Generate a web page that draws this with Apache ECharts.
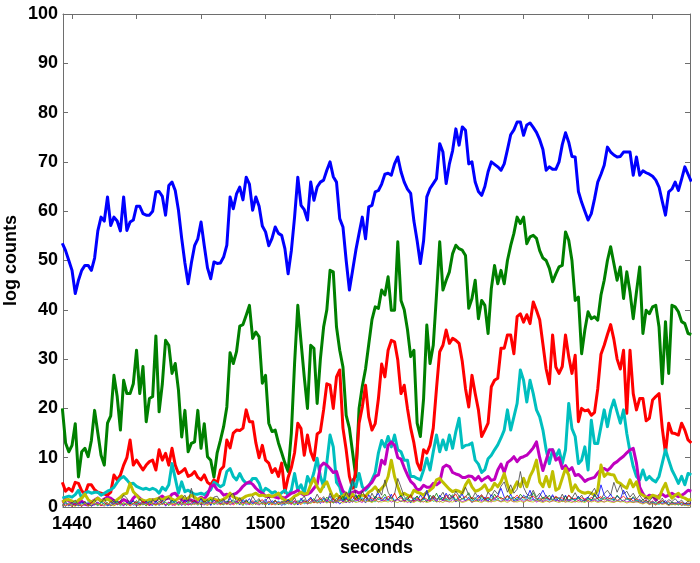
<!DOCTYPE html>
<html>
<head>
<meta charset="utf-8">
<script src="https://cdn.jsdelivr.net/npm/echarts@6/dist/echarts.min.js"></script>
<style>
html,body{margin:0;padding:0;background:#fff;}
#chart{width:700px;height:563px;}
</style>
</head>
<body>
<div id="chart"></div>
<script>
// time grid: one sample per second, 1437 .. 1632 (196 samples)
const seconds = Array.from({length: 196}, (_, i) => 1437 + i);
const xTicks = [1440, 1460, 1480, 1500, 1520, 1540, 1560, 1580, 1600, 1620];
const yTicks = [0, 10, 20, 30, 40, 50, 60, 70, 80, 90, 100];

// thick series
const blue = [
53.5,52,50,48,43.3,46,48,49,49,48,
50.5,56,58.8,58,62.9,57.1,58.8,58,56,62.9,
56.1,57.8,58.2,61,61,59.5,59.2,59.2,60,63.9,
64,63,59.2,65.2,65.9,64.2,60.2,54.5,49.5,45.3,
49.5,53,54.4,57.8,53,48.5,46.3,49.7,49.4,49.5,
50.7,53.1,62.9,60.5,63.5,64.9,62.3,66.9,65.5,60.2,
62.9,61,57,55.8,53,54.5,56.8,55.5,55.1,52.4,
47.3,52,58.8,66.9,61.2,60.3,58.2,65.9,62.2,64.9,
65.9,66.3,68.3,70,67,65.9,58.5,56.8,50,44,
48,52.1,55.5,58.8,54.4,60.9,61.2,63.9,64.2,65.5,
67.5,67.7,67.3,69.6,71,68,65.9,64.5,63.6,58,
54,49.4,54,62.9,64.6,65.6,66.6,73.7,72,65.6,
69.6,72.3,76.7,73.4,77.1,76.4,69.6,70,65.9,64,
63.2,65,68,70,69.5,69,68.3,69.6,72.5,75.5,
76.5,78.1,78.1,75.4,77.5,77.9,77,76,74.5,72.5,
68.3,69,68.5,68.5,70,73.5,75.9,74,71.1,71,
64,61.8,60,58.2,59.5,62.5,65.9,67.5,69.3,73,
72,71.4,71,71.1,72,72,72,67.3,71,67.3,
68.2,67.8,67.5,67.1,66.3,64.9,62,59.2,63.9,64.5,
65.9,64.2,66.5,69,67.5,66];

const green = [
20,13,11.2,12.5,16.9,6.1,11.2,11.9,10.2,13.5,
19.6,15,10.5,8.5,17,18.5,26.7,22.4,15.6,25.7,
23,23,25,31.8,23,28.5,17.3,22,22.4,34.7,
19.3,25,33.8,32.8,27.1,29.1,23.7,14.2,19.6,11.2,
12.9,13.2,19.6,11.9,16.9,10.2,9.5,6.1,11,13.5,
16.3,20.3,31.3,29.1,31.5,36.7,37,38.9,40.9,34.2,
35.5,34.5,25.1,26.7,17,15.3,15.6,13,11,8.9,
7.2,15,29.1,40.9,33.5,26.4,20,32.8,32.2,21,
30,36.5,40,48,47.7,36.5,31.8,28.4,18.6,16,
11,6.1,20,24.5,28,33,38,40.6,40.3,44,
43,46.7,39.9,39.9,53.8,41.9,40,36,30.5,31.8,
17,14.3,22,36.9,29.1,32.8,43,53.8,44,46,
47.7,51.4,53.1,52.4,52.1,51,40.3,42.3,46,38.2,
41.9,40.9,35.2,44.3,49,45.3,48,45.3,50,53,
55.5,58.8,57.5,58.8,53.4,54.8,55.1,54.5,52,50.5,
50,48.4,45.7,47.3,48.7,49,55.8,54.1,50,41.9,
42.6,31.1,35.9,39.6,38.2,38.6,37.9,43,46,50,
52.8,49.4,46,48.7,42.3,47.7,43.6,38.2,43.6,48.7,
35.2,39.9,39.2,40.6,40.9,36.5,25,37.6,27.1,40.9,
40.6,39.6,37.6,37.2,35.2,35];

const red = [
5,3.2,3.8,3.2,5,4.8,3.3,2.6,4.5,4.5,
3.5,3,2.8,2.6,2.4,3,6.5,5.5,6.5,8.5,
10,13.6,8.5,9.5,8.5,7.5,8.5,9.2,9.5,7.5,
11.6,9.5,10.9,8.5,11.9,8.5,6.8,7.2,7.8,6.2,
6.5,7.2,6,5.5,6.5,5,4.5,5.5,4.8,7.5,
8.2,13.6,12,15,15.6,15.5,16,19.7,17.3,17.3,
13,10,12.5,9.5,8.9,7,7.8,6.2,8.9,3,
6,8,11,17,15.9,10.5,14.6,11.2,9.5,14.8,
15.3,19.7,25,24.7,20,26.4,27.8,16,11.6,6.2,
3.8,7.5,17,20.3,24.7,18.3,15.6,16.9,22,29,
26.4,31.8,33.8,33.5,29.8,23,24.7,20,16,13,
9,7.5,11.6,10.9,12.5,16,24,31.5,32.8,35.9,
33.2,34.2,33.8,33.2,29.5,24,20.3,26.7,23,19.7,
14.3,15.6,17,24.4,25.7,26.1,32.2,32.2,34.9,34.9,
31.1,38.6,39.2,37.5,39,37.2,41.6,39.9,38,33,
28,25,34.9,28.4,27.1,28.5,34.9,30.5,27.1,30.8,
17.3,20,19.5,19.7,18.6,19.2,24,31,32.8,35,
37,34,30,28,31.8,19,31.8,23,19.7,22,
22,17.5,18,21.7,22.4,23,16,10.9,17,15,
14.9,14.6,17,15.6,13.6,13];

const cyan = [
1.8,2,2.2,2,2.5,3.4,1.8,2.8,3.1,2.8,
3,3,2.4,2.8,3.2,3.5,4,5,5.8,6.2,
5.5,4.7,4.8,4.2,3.9,3.6,3.8,3.5,3.8,3.5,
2.8,4,3.4,4.5,8.8,5.8,2.8,5.1,3.1,3.4,
3,2.6,2.6,2.8,2.5,3,3.5,5,4.6,4.1,
4.5,7.2,7.8,6.2,5.5,6.8,5.5,4.8,4.8,5.8,
5.8,4.8,2.8,3.8,3.4,2.8,3.1,2.4,2.9,3.4,
2.4,3.4,6.8,3.4,4.5,2.8,6.2,4.8,7,9.9,
6.2,4.1,9,14.6,12.2,5,4.1,1.5,1.8,3,
5.1,4.1,6.8,4.1,3.4,4.2,5.5,7,11,13.5,
12.2,14.3,12.2,14.6,11.6,11.2,9.5,9.5,6.2,6.2,
5.8,5.5,7.5,9.9,7.5,11.2,14.6,11.2,13.6,11.6,
14.6,11.9,15.3,18,12,12.5,12.6,13,9.5,8.7,
7,7.6,9.8,10.5,11.6,12.6,14,15.6,19.7,15.6,
18.3,21,27.8,25.7,21.3,25.7,23,19.7,18.3,15.6,
11.6,8.8,11.6,10.2,11.6,8.8,11.6,21,15.9,14.3,
8.8,9.5,12.2,7.5,17.6,12.9,12.9,16.3,19.7,16.3,
19.7,21.7,19.3,17,19.7,14.9,11.2,8.2,6.2,5.5,
7.5,5.5,6.2,5.5,5.1,6.2,8.9,11.6,9.5,7.5,
6.2,4.8,6.2,4.5,6.8,6.5];

const magenta = [
1,1.5,1.3,1,0.5,0.8,1.2,0.6,0.4,1,
1.4,1.8,1.2,1.6,2,1.8,1.3,0.8,1,1.5,
1.2,0.8,1.8,2.4,1.8,1.2,0.8,1,1.5,1.3,
1.8,2.2,1.6,1.8,2.6,2.8,2,1.5,1.2,1.6,
1.4,1,1.5,2,1.6,2.5,4.2,4.5,3.5,3.2,
2.4,2.6,2.2,2.5,2.8,3.4,4.2,4.8,5.1,4.6,
3.8,3.2,2.8,2.2,2.1,2.2,2,1.8,2,1.8,
2.3,2.8,3,3.4,2.8,2.4,2.6,3,3.8,4.6,
8.2,8.9,8.5,7.8,7,7.2,5,3.2,2.6,2.4,
3,3.2,2.8,3.2,3.8,4.4,5,6.2,6.5,9.5,
8.7,12.5,13.2,12.5,10,9.7,8,6.5,5.2,4.6,
3.5,3.6,4.4,4,4,4.8,4.5,5,8,8.5,
8.2,7,6.7,6.5,6,6,6.3,6.2,5.5,6.2,
5.3,5.8,6.2,5.4,5.6,7.5,8.7,7,9,9.5,
10.2,9.2,10,10.2,10.5,11.2,12,13.2,10,7.4,
9.5,11.6,11.6,9.5,10,7.8,8.4,7.4,8,6.4,
6.6,6,5.2,5.6,5.8,6,6.9,7.6,7.8,7.4,
8,8.8,9.2,9.8,10.3,11,11.6,11.9,8.9,4,
2.7,1.8,2.4,2.2,1.4,2.3,2.6,2.1,2.4,2.8,
2.4,2.1,2.4,2.8,3.4,3.2];

const yellow = [
1,1.4,1.5,1.2,0.8,1.4,1.8,2.6,1.5,1,
1.3,1.8,1.2,1.4,1.6,1.2,0.8,1.5,2,2.6,
2.8,4.8,3.1,2.4,1.6,1.4,1.2,1.5,1.4,1.6,
1.8,1.4,1.9,2.1,1.6,1.3,1.8,2.2,1.6,1.8,
2.4,2,1.5,1.8,1.3,1.4,1.8,1.6,1.4,1.3,
1.6,2,2.8,2,1.8,1.5,1.8,2.2,2.4,2.5,
2.8,2.3,2.4,2.2,2.4,2.1,2.4,2.8,1.8,1.4,
1.2,1.6,2.2,2.5,3,2.6,2.8,4.5,5.8,4.1,
3.1,4.4,5.1,3.4,1.8,2.6,1.8,2.2,2.8,1.5,
2.6,1.8,2.2,2.4,2.2,3,3.4,4.1,3.1,3.8,
4.5,6.2,9.5,6.2,4.1,2.4,2.8,2.4,2.1,3.4,
3,2.8,2.4,3,3.4,4,5.5,5.8,5,4.3,
3.6,3.1,3.4,3.2,2.8,4.5,5.5,4.1,3.2,3.4,
3.8,4.5,3.2,3.6,4.8,4.1,5.1,6.8,4.5,2.8,
3.8,5.1,4.1,5.8,4.1,6.2,7.5,9.5,5.1,4.1,
6.2,4.1,7.2,3.4,3.8,5.8,7.8,6.5,3.1,4.5,
3.4,3,2.8,3,2.8,2.4,3.4,8.5,6.2,6.8,
6.6,6.5,5.1,4.8,4.2,3.8,5.5,4.1,5.1,2.8,
2.4,2,1.8,2.4,2.2,1.8,3.5,4.8,2.8,1.8,
2.4,2.8,2,1.8,1.4,1.5];

// thin series
const thinBlack = [
0.3,1.1,0.2,0.8,1.4,0.3,0.6,1.2,0.2,0.9,
1.5,0.4,0.8,1.8,0.3,1.0,1.6,0.5,1.2,2.4,
1.8,0.6,1.3,0.4,1.7,0.8,1.2,0.3,1.5,0.9,
2.0,0.5,1.4,1.9,0.7,1.3,0.5,1.6,2.4,1.0,
3.8,1.2,0.6,1.8,0.9,1.5,0.4,2.0,2.2,1.1,
1.6,0.7,2.3,2.8,1.0,1.9,0.8,1.5,0.6,2.2,
1.1,1.7,0.5,1.3,2.0,0.8,1.4,0.4,1.2,0.7,
1.6,0.9,1.9,0.5,1.4,2.2,0.8,1.8,1.2,2.6,
1.4,2.1,0.9,2.8,1.5,1.0,2.4,1.2,3.0,2.0,
5.8,2.5,1.4,3.2,2.0,1.2,2.8,1.6,3.6,2.4,
5.5,3.0,1.8,2.6,5.8,4.0,2.1,1.4,2.5,1.2,
2.2,1.0,1.8,2.9,1.3,2.4,1.6,2.0,3.0,1.5,
2.6,1.8,3.2,2.2,2.8,4.0,2.4,1.6,2.9,1.9,
2.5,1.4,3.0,2.2,3.4,2.6,4.2,5.1,3.0,4.5,
2.8,3.6,7.2,4.0,2.6,2.2,3.4,2.0,2.8,1.6,
2.4,1.5,2.2,1.8,1.2,2.6,1.4,2.4,1.8,2.9,
1.6,2.4,1.2,2.0,2.8,3.8,2.2,1.6,2.7,3.4,
2.4,5.0,3.0,4.5,2.6,3.2,2.0,2.8,1.6,2.4,
1.4,2.0,1.2,2.0,1.6,1.0,1.8,0.8,1.5,1.1,
1.7,0.9,1.4,0.6,1.2,0.8];

const thinBlue = [
0.6,0.1,0.9,0.3,0.7,0.2,1.1,0.4,0.8,0.2,
0.5,1.0,0.3,0.9,0.2,0.6,1.2,0.4,0.8,0.3,
1.0,0.5,1.3,0.2,0.9,0.4,1.1,0.6,0.3,1.2,
0.5,1.4,0.2,0.8,1.3,0.6,1.0,0.3,1.5,0.7,
0.4,1.2,0.8,1.6,0.5,1.1,0.3,1.4,0.9,0.6,
1.3,0.5,1.8,0.7,1.2,0.4,1.5,0.9,1.7,0.6,
1.2,0.5,1.0,1.6,0.4,1.3,0.7,1.1,0.3,0.9,
1.4,0.6,1.2,0.4,1.8,0.8,1.3,2.0,0.9,1.5,
0.7,1.8,1.1,2.2,0.8,1.4,0.6,1.2,1.9,0.8,
1.5,2.4,1.0,1.7,0.8,2.5,1.3,1.9,2.8,1.2,
2.0,1.4,2.6,1.0,1.8,2.2,1.1,1.6,0.8,1.9,
1.2,2.4,1.5,3.4,1.6,2.0,1.0,2.4,1.4,2.8,
1.5,2.2,1.0,1.8,2.6,1.2,2.0,0.9,1.7,2.4,
1.3,2.0,1.1,2.5,1.6,2.2,3.8,2.0,1.4,2.6,
1.2,2.0,1.5,2.4,1.8,3.4,1.6,1.2,2.2,3.4,
2.0,1.4,2.5,1.1,1.9,1.3,2.4,1.0,1.8,1.4,
2.2,1.0,1.6,2.0,1.2,2.6,1.6,4.5,2.4,1.8,
2.6,1.4,2.2,1.6,3.4,2.0,1.2,1.9,1.0,1.6,
0.8,1.4,0.6,1.2,0.5,1.0,0.7,1.3,0.4,0.9,
0.6,1.1,0.3,0.8,0.5,0.9];

const thinGreen = [
0.2,0.8,0.4,1.0,0.3,0.7,0.1,0.9,0.5,0.2,
0.8,0.3,1.1,0.5,0.9,0.2,0.7,1.2,0.4,0.8,
0.3,1.0,0.6,1.3,0.4,0.8,0.2,1.1,0.7,0.4,
1.2,0.6,0.9,0.3,1.4,0.8,0.5,1.1,0.3,0.9,
1.3,0.6,1.0,0.4,1.2,0.7,1.6,0.5,1.1,0.8,
0.4,1.2,0.9,1.5,0.6,1.1,0.3,1.3,0.8,1.0,
0.5,1.4,0.8,0.4,1.1,0.7,1.3,0.5,0.9,1.2,
0.6,1.0,0.4,1.3,0.8,1.5,0.6,1.1,1.7,0.9,
1.6,1.0,2.0,1.3,0.8,1.8,1.2,2.2,0.9,1.5,
1.0,1.8,2.4,1.2,2.0,1.4,1.0,2.2,1.5,1.8,
2.6,1.4,2.0,1.1,1.8,2.4,1.3,2.1,1.0,1.6,
2.2,1.3,1.9,1.0,2.4,1.6,2.8,1.4,2.0,1.2,
1.8,2.5,1.3,2.2,1.6,2.0,2.9,1.5,1.9,1.1,
2.2,1.5,1.8,1.2,2.6,1.7,2.0,1.3,2.4,1.6,
2.0,1.4,2.6,1.8,2.2,1.5,2.9,1.7,1.2,2.0,
1.6,2.4,1.3,2.0,1.7,1.1,2.2,1.4,1.8,1.2,
2.0,1.5,1.1,1.8,1.4,2.3,1.6,1.2,2.0,1.5,
1.8,1.2,2.4,1.6,1.1,1.9,1.4,2.1,1.3,1.0,
1.5,0.9,1.2,0.7,1.1,0.6,1.3,0.8,0.5,1.0,
0.7,0.4,0.9,0.5,0.8,0.4];

const thinRed = [
0.9,0.3,0.6,0.1,0.8,0.4,0.2,0.7,0.3,1.0,
0.4,0.7,0.2,0.9,0.5,1.1,0.3,0.6,1.0,0.5,
0.8,0.2,0.7,1.0,0.5,1.2,0.6,0.3,0.9,0.5,
0.8,1.1,0.4,1.0,0.6,0.3,1.2,0.7,1.0,0.4,
0.9,1.3,0.5,0.8,1.1,0.4,1.0,0.7,1.4,0.5,
1.0,0.6,1.2,0.4,0.9,1.4,0.7,1.1,0.5,1.3,
0.8,1.0,1.5,0.6,0.9,0.4,1.2,0.8,1.0,0.5,
1.1,0.7,1.3,0.9,0.5,1.2,1.0,1.6,0.8,1.3,
1.9,1.0,1.5,0.8,1.7,1.2,2.0,1.0,1.6,1.3,
2.2,1.4,1.8,1.1,2.4,1.5,1.9,1.2,2.0,1.7,
1.3,2.2,1.6,2.8,1.4,1.9,1.2,1.7,2.3,1.1,
1.8,1.4,2.0,1.6,1.2,2.2,1.5,1.8,1.3,2.4,
1.6,1.9,2.6,1.4,1.7,2.2,1.5,2.0,1.3,1.8,
2.4,1.6,2.0,1.4,1.9,2.3,1.6,1.8,2.2,1.5,
1.8,2.4,1.7,2.0,1.4,1.9,2.2,1.6,1.8,1.3,
2.0,1.6,1.4,2.2,1.7,1.9,1.2,2.4,1.5,1.8,
1.3,1.9,1.6,1.2,2.0,1.5,1.8,2.1,1.4,1.9,
1.6,2.0,1.3,1.7,2.2,1.5,1.8,1.2,1.6,1.3,
1.0,1.4,0.8,1.2,0.6,1.0,1.3,0.7,1.1,0.5,
0.9,0.6,1.0,0.4,0.8,0.5];

const thinCyan = [
0.4,0.9,0.2,0.6,1.0,0.3,0.8,0.5,1.1,0.3,
0.7,0.2,1.0,0.6,0.3,0.9,0.5,1.1,0.2,0.8,
0.5,1.1,0.3,0.7,1.0,0.4,0.8,1.2,0.5,0.9,
0.3,0.8,1.0,0.5,0.9,1.2,0.4,0.8,0.6,1.0,
0.6,1.0,0.3,1.2,0.7,0.9,1.3,0.5,0.8,1.1,
0.7,1.0,0.5,1.1,0.8,0.6,1.2,0.4,1.0,0.8,
1.3,0.6,0.9,1.1,0.5,1.0,0.6,1.2,0.8,0.4,
0.9,1.2,0.7,1.0,1.4,0.6,1.0,0.8,1.3,1.0,
1.2,1.6,0.9,1.4,1.1,0.8,1.5,1.3,1.0,1.7,
1.3,1.1,1.6,1.9,1.2,1.7,1.4,1.0,1.8,1.3,
1.7,1.2,1.9,1.4,1.6,1.0,1.8,1.4,1.2,1.7,
1.4,1.0,1.6,1.3,1.8,1.1,1.5,1.9,1.2,1.6,
1.3,1.8,1.5,1.1,1.7,1.4,1.9,1.2,1.6,1.4,
1.8,1.2,1.5,1.9,1.3,1.6,1.1,1.7,1.4,1.9,
1.5,1.2,1.8,1.4,1.6,1.9,1.3,1.7,1.5,1.1,
1.7,1.3,1.6,1.4,1.9,1.2,1.5,1.1,1.6,1.3,
1.8,1.4,1.1,1.6,1.3,1.7,1.2,1.5,1.8,1.3,
1.4,1.7,1.2,1.5,1.1,1.6,1.3,1.0,1.4,1.2,
0.9,1.2,0.6,1.0,0.8,0.5,1.0,0.7,0.9,0.4,
0.8,0.5,0.7,0.3,0.6,0.4];

const thinMagenta = [
0.2,0.6,0.3,0.9,0.4,0.7,0.2,0.5,0.8,0.3,
0.6,0.9,0.4,0.2,0.7,0.3,0.8,0.5,0.7,0.2,
0.9,0.4,0.6,0.3,0.8,0.5,1.0,0.3,0.6,0.8,
0.4,0.7,0.5,1.0,0.3,0.6,0.9,0.5,0.7,0.4,
0.8,0.5,1.0,0.6,0.4,0.9,0.7,1.1,0.5,0.8,
0.6,1.0,0.4,0.8,1.1,0.6,0.9,0.7,0.5,1.0,
0.7,0.4,0.9,0.6,1.2,0.8,0.5,0.9,0.7,1.1,
0.8,0.5,1.0,0.7,0.9,1.2,0.6,1.0,1.3,0.8,
1.1,0.9,1.4,1.0,1.2,0.8,1.5,1.1,0.9,1.3,
1.0,1.4,1.2,0.9,1.6,1.1,1.3,1.5,1.0,1.4,
1.2,1.6,1.0,1.3,1.5,1.1,1.4,0.9,1.3,1.1,
1.5,1.2,1.0,1.4,1.1,1.6,1.3,1.0,1.4,1.2,
1.0,1.5,1.2,1.4,1.1,1.3,1.6,1.0,1.2,1.5,
1.1,1.4,1.2,1.0,1.6,1.3,1.1,1.5,1.2,1.4,
1.0,1.3,1.5,1.1,1.4,1.2,1.6,1.0,1.3,1.1,
1.4,1.0,1.2,1.5,1.1,1.3,1.0,1.4,1.2,1.0,
1.3,1.1,1.5,1.0,1.2,1.4,1.1,1.3,1.0,1.4,
1.2,1.0,1.3,1.1,1.4,1.0,1.2,0.9,1.1,1.0,
0.7,1.0,0.5,0.8,0.4,0.9,0.6,0.8,0.3,0.7,
0.5,0.8,0.4,0.6,0.3,0.5];

const thinYellow = [
0.5,0.2,0.7,0.4,0.1,0.6,0.3,0.8,0.2,0.5,
0.9,0.4,0.6,0.3,0.8,0.5,0.2,0.7,0.4,0.9,
0.6,0.3,0.8,0.5,0.2,0.7,0.4,0.9,0.6,0.3,
0.7,0.5,0.9,0.4,0.6,0.8,0.3,0.7,0.5,0.9,
0.4,0.7,0.5,0.9,0.6,0.3,0.8,0.6,0.9,0.4,
0.8,0.5,0.7,1.0,0.6,0.8,0.5,1.0,0.7,0.4,
0.9,0.6,0.8,0.5,1.0,0.7,0.4,0.8,0.6,1.0,
0.7,0.9,0.5,0.8,0.6,1.0,0.9,0.7,1.1,0.8,
1.0,1.2,0.8,1.1,0.9,1.3,1.0,0.8,1.2,1.0,
1.3,0.9,1.1,1.4,1.0,1.2,0.9,1.3,1.1,1.0,
1.2,1.0,1.4,1.1,0.9,1.3,1.0,1.2,1.1,0.9,
1.3,1.0,1.2,0.9,1.1,1.4,1.0,1.2,0.9,1.3,
1.1,1.0,1.3,1.2,0.9,1.1,1.4,1.0,1.2,1.1,
0.9,1.3,1.0,1.2,1.1,1.4,1.0,1.2,0.9,1.3,
1.1,1.0,1.2,0.9,1.3,1.1,1.0,1.4,1.1,0.9,
1.2,1.0,1.3,1.1,0.9,1.2,1.0,1.1,0.9,1.2,
1.0,1.1,0.9,1.3,1.0,1.2,0.9,1.1,1.0,1.2,
1.0,0.9,1.2,1.0,1.1,0.8,1.0,0.9,1.1,0.8,
0.6,0.9,0.5,0.7,0.4,0.8,0.5,0.7,0.3,0.6,
0.4,0.7,0.3,0.5,0.2,0.4];

const seriesDefs = [
  {name: 'b', data: blue, color: '#0000ff', width: 3},
  {name: 'g', data: green, color: '#008000', width: 3},
  {name: 'r', data: red, color: '#ff0000', width: 3},
  {name: 'c', data: cyan, color: '#00bfbf', width: 3},
  {name: 'm', data: magenta, color: '#bf00bf', width: 3},
  {name: 'y', data: yellow, color: '#bfbf00', width: 3},
  {name: 'k2', data: thinBlack, color: '#404040', width: 0.8},
  {name: 'b2', data: thinBlue, color: '#0000ff', width: 0.8},
  {name: 'g2', data: thinGreen, color: '#008000', width: 0.8},
  {name: 'r2', data: thinRed, color: '#ff0000', width: 0.8},
  {name: 'c2', data: thinCyan, color: '#00bfbf', width: 0.8},
  {name: 'm2', data: thinMagenta, color: '#bf00bf', width: 0.8},
  {name: 'y2', data: thinYellow, color: '#bfbf00', width: 0.8}
];

const FONT = 'Liberation Sans, Arial, Helvetica, sans-serif';
const AXIS_COLOR = '#6e6e6e';

const chart = echarts.init(document.getElementById('chart'), null, {renderer: 'canvas'});

const xCommon = {
  type: 'value', min: 1437.2, max: 1631.6,
  splitLine: {show: false},
  axisLine: {show: true, onZero: false, lineStyle: {color: AXIS_COLOR, width: 1}},
  axisTick: {show: true, inside: true, length: 5, customValues: xTicks, lineStyle: {color: AXIS_COLOR}}
};
const yCommon = {
  type: 'value', min: 0, max: 100, interval: 10,
  splitLine: {show: false},
  axisLine: {show: true, onZero: false, lineStyle: {color: AXIS_COLOR, width: 1}},
  axisTick: {show: true, inside: true, length: 5, lineStyle: {color: AXIS_COLOR}}
};

chart.setOption({
  animation: false,
  backgroundColor: '#ffffff',
  grid: {left: 63, right: 10, top: 14, bottom: 56, containLabel: false, outerBoundsMode: 'none'},
  xAxis: [
    Object.assign({}, xCommon, {
      position: 'bottom',
      name: 'seconds', nameLocation: 'middle', nameGap: 32, nameMoveOverlap: false,
      nameTextStyle: {fontFamily: FONT, fontWeight: 'bold', fontSize: 18, color: '#000'},
      axisLabel: {show: true, customValues: xTicks, margin: 8, formatter: v => String(v),
        fontFamily: FONT, fontWeight: 'bold', fontSize: 18, color: '#000'}
    }),
    Object.assign({}, xCommon, {position: 'top', axisLabel: {show: false}})
  ],
  yAxis: [
    Object.assign({}, yCommon, {
      position: 'left',
      name: 'log counts', nameLocation: 'middle', nameGap: 43, nameMoveOverlap: false,
      nameTextStyle: {fontFamily: FONT, fontWeight: 'bold', fontSize: 18, color: '#000'},
      axisLabel: {show: true, margin: 5, formatter: v => String(v),
        fontFamily: FONT, fontWeight: 'bold', fontSize: 18, color: '#000'}
    }),
    Object.assign({}, yCommon, {position: 'right', axisLabel: {show: false}})
  ],
  series: seriesDefs.map(d => ({
    name: d.name,
    type: 'line',
    xAxisIndex: 0, yAxisIndex: 0,
    data: seconds.map((t, i) => [t, d.data[i]]),
    showSymbol: false,
    symbol: 'none',
    clip: true,
    lineStyle: {color: d.color, width: d.width, join: 'round'},
    itemStyle: {color: d.color},
    emphasis: {disabled: true}
  }))
});
</script>
</body>
</html>
